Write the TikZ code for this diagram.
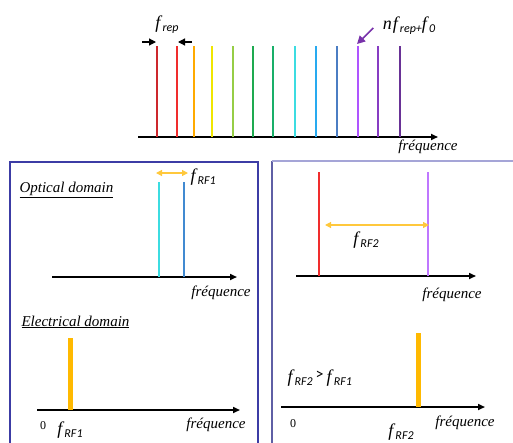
\documentclass[tikz,border=0pt]{standalone}
\usepackage{fontspec}
\setmainfont{Liberation Serif}
\newfontfamily\subfont{Carlito}
\usetikzlibrary{positioning,arrows.meta}

\definecolor{lboxcol}{RGB}{60,60,165}
\definecolor{rboxtop}{RGB}{165,165,215}
\definecolor{rboxleft}{RGB}{95,95,165}
\definecolor{rfcol}{RGB}{255,185,0}
\definecolor{rfarrow}{RGB}{255,200,60}
\definecolor{pointer}{RGB}{120,50,170}

% comb colours, red to violet
\definecolor{c1}{RGB}{205,40,45}
\definecolor{c2}{RGB}{240,45,45}
\definecolor{c3}{RGB}{255,170,0}
\definecolor{c4}{RGB}{240,230,0}
\definecolor{c5}{RGB}{150,205,70}
\definecolor{c6}{RGB}{30,170,80}
\definecolor{c7}{RGB}{25,175,105}
\definecolor{c8}{RGB}{60,220,225}
\definecolor{c9}{RGB}{40,170,240}
\definecolor{c10}{RGB}{75,125,195}
\definecolor{c11}{RGB}{175,85,255}
\definecolor{c12}{RGB}{135,60,195}
\definecolor{c13}{RGB}{105,50,150}

\newcommand{\flab}[1]{\fontsize{18}{18}\selectfont\textit{f}\raisebox{-0.35ex}{\subfont\fontsize{12}{12}\selectfont\textit{#1}}}

\begin{document}
\begin{tikzpicture}[x=1pt,y=-1pt,
				axis/.style={-{Triangle[length=7pt,width=6pt]}, line width=1.6pt},
				comb/.style={line width=1.4pt},
				rfbar/.style={rfcol, line width=5pt},
				rfspan/.style={{Triangle[length=6pt,width=6pt]}-{Triangle[length=6pt,width=6pt]}, rfarrow, line width=1.2pt},
				freq/.style={font=\fontsize{15}{15}\selectfont\itshape},
				domaintitle/.style={font=\fontsize{15}{15}\selectfont\itshape, anchor=west},
				zero/.style={font=\fontsize{12}{12}\selectfont}
				]
				\useasboundingbox (0,0) rectangle (513,442);

				% frequency comb
				\draw[axis] (138,137) -- (438,137);
				\foreach \x/\c in {157/c1,177/c2,194/c3,212/c4,233/c5,253/c6,273/c7,295/c8,316/c9,337/c10,358/c11,378/c12,400/c13}
					\draw[comb,\c] (\x,137) -- (\x,46);
				\node (frep) at (167,25) {\flab{rep}};
				\coordinate (repl) at (142,42);
				\coordinate (repla) at (156,42);
				\coordinate (repr) at (192,42);
				\coordinate (repra) at (178,42);
				\draw[-{Triangle[length=7pt,width=7pt]}, line width=1.2pt] (repl) -- (repla);
				\draw[-{Triangle[length=7pt,width=7pt]}, line width=1.2pt] (repr) -- (repra);
				\node (nf) at (409,26) {\fontsize{18}{18}\selectfont\textit{n\kern1pt f}\raisebox{-0.35ex}{\subfont\fontsize{12}{12}\selectfont\textit{rep+}}\textit{f}\raisebox{-0.35ex}{\subfont\fontsize{12}{12}\selectfont\textit{0}}};
				\coordinate (nftip) at (357,44);
				\draw[-{Triangle[length=8pt,width=8pt]}, pointer, line width=1.6pt] (nf.west) ++(-6,2) -- (nftip);
				\node[freq] (fq0) at (428,147) {fréquence};

				% panel frames
				\draw[lboxcol, line width=1.6pt] (10,446) -- (10,162) -- (258,162) -- (258,446);
				\draw[rboxleft, line width=1.3pt] (272,446) -- (272,161);
				\draw[rboxtop, line width=2pt] (272,161) -- (515,161);

				% optical domain, two close lines
				\node[domaintitle] (opt) at (16,190) {\underline{Optical domain}};
				\draw[axis] (52,277) -- (237,277);
				\draw[comb, line width=1.2pt, c8] (159,277) -- (159,182);
				\draw[comb, line width=1.2pt, c10!70!c9] (184,277) -- (184,182);
				\coordinate (rf1a) at (156,173);
				\coordinate (rf1b) at (188,173);
				\draw[rfspan] (rf1a) -- (rf1b);
				\node[anchor=west] (rf1) at (187,177) {\flab{RF1}};
				\node[freq] (fq1) at (221,293) {fréquence};

				% electrical domain
				\node[domaintitle] (elec) at (18,322) {\underline{Electrical domain}};
				\draw[axis] (37,410) -- (240,410);
				\draw[rfbar] (70,410) -- (70,338);
				\node[zero] (z1) at (43,426) {0};
				\node (rf1e) at (70,430) {\flab{RF1}};
				\node[freq] (fq2) at (216,425) {fréquence};

				% optical domain, two distant lines
				\draw[axis] (296,276) -- (476,276);
				\draw[comb, line width=1.2pt, c2] (319,276) -- (319,172);
				\draw[comb, line width=1.2pt, c11!80!white] (428,276) -- (428,172);
				\coordinate (rf2a) at (325,225);
				\coordinate (rf2b) at (429,225);
				\draw[rfspan] (rf2a) -- (rf2b);
				\node (rf2) at (366,240) {\flab{RF2}};
				\node[freq] (fq3) at (452,295) {fréquence};

				% electrical domain, higher beat
				\node[anchor=west] (cmp) at (284,378) {\flab{RF2}\,\raisebox{0.3ex}{\subfont\fontsize{16}{16}\selectfont >}\,\flab{RF1}};
				\draw[axis] (281,407) -- (485,407);
				\draw[rfbar] (418,407) -- (418,333);
				\node[zero] (z2) at (293,424) {0};
				\node (rf2e) at (401,432) {\flab{RF2}};
				\node[freq] (fq4) at (465,423) {fréquence};
			\end{tikzpicture}
\end{document}
